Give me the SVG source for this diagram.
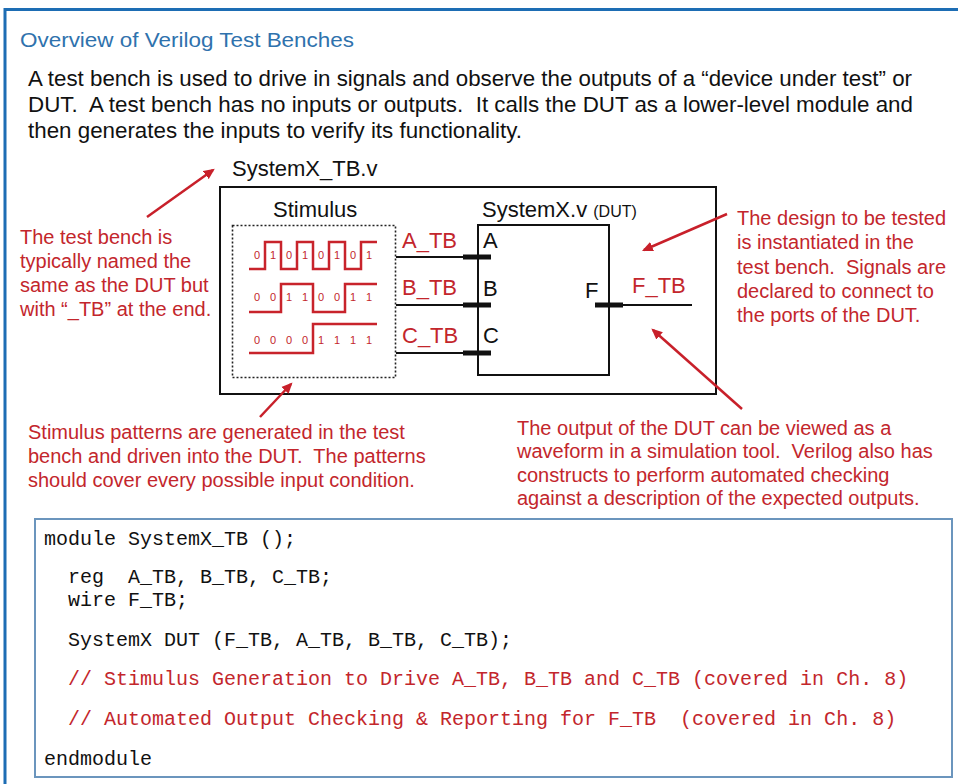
<svg xmlns="http://www.w3.org/2000/svg" width="958" height="784" viewBox="0 0 958 784">
<defs>
<style>
text{font-family:"Liberation Sans",Arial,sans-serif;white-space:pre}
.title{font-size:21px;fill:#2f72ad}
.para{font-size:22px;fill:#111}
.lbl{font-size:22px;fill:#111}
.sig{font-size:22px;fill:#c3262c}
.note{font-size:20px;fill:#c3262c}
.bit{font-size:11px;fill:#c3262c;text-anchor:middle}
.code{font-family:"Liberation Mono","Courier New",monospace;font-size:20px;fill:#111}
.cmt{fill:#c3262c}
.wave{fill:none;stroke:#c8232b;stroke-width:2.5}
.wire{stroke:#111;stroke-width:2;fill:none}
.stub{stroke:#111;stroke-width:5;fill:none}
.arrow{stroke:#c8202a;stroke-width:2.5;fill:none;marker-end:url(#ah)}
</style>
<marker id="ah" viewBox="0 0 10 10" refX="8" refY="5" markerWidth="11" markerHeight="11" markerUnits="userSpaceOnUse" orient="auto">
<path d="M0,0.5 L10,5 L0,9.5 z" fill="#c8202a"/>
</marker>
</defs>
<rect width="958" height="784" fill="#fff"/>
<g id="frame">
<line x1="5" y1="9.5" x2="958" y2="9.5" stroke="#1d6db4" stroke-width="3"/>
<line x1="5" y1="8" x2="5" y2="784" stroke="#1d6db4" stroke-width="3"/>
</g>
<g id="heading">
<text class="title" x="20" y="47" textLength="334" lengthAdjust="spacingAndGlyphs">Overview of Verilog Test Benches</text>
<text class="para" x="28" y="86" textLength="884" lengthAdjust="spacingAndGlyphs">A test bench is used to drive in signals and observe the outputs of a “device under test” or</text>
<text class="para" x="28" y="112" textLength="885" lengthAdjust="spacingAndGlyphs">DUT.  A test bench has no inputs or outputs.  It calls the DUT as a lower-level module and</text>
<text class="para" x="28" y="138" textLength="494" lengthAdjust="spacingAndGlyphs">then generates the inputs to verify its functionality.</text>
</g>
<g id="testbench">
<text class="lbl" x="232" y="176">SystemX_TB.v</text>
<rect x="220" y="187" width="496" height="207" fill="none" stroke="#111" stroke-width="2"/>
</g>
<g id="stimulus">
<text class="lbl" x="273" y="217">Stimulus</text>
<rect x="232.5" y="225.5" width="163" height="152" fill="none" stroke="#222" stroke-width="1.6" stroke-dasharray="2,2"/>
<path class="wave" d="M249,269 H265 V242 H281 V269 H297 V242 H313 V269 H329 V242 H345 V269 H361 V242 H377"/>
<path class="wave" d="M249,312 H281 V284 H313 V312 H345 V284 H377"/>
<path class="wave" d="M249,353 H313 V324 H377"/>
<g>
<text class="bit" x="257" y="259">0</text><text class="bit" x="273" y="259">1</text><text class="bit" x="289" y="259">0</text><text class="bit" x="305" y="259">1</text><text class="bit" x="321" y="259">0</text><text class="bit" x="337" y="259">1</text><text class="bit" x="353" y="259">0</text><text class="bit" x="369" y="259">1</text>
<text class="bit" x="257" y="301">0</text><text class="bit" x="273" y="301">0</text><text class="bit" x="289" y="301">1</text><text class="bit" x="305" y="301">1</text><text class="bit" x="321" y="301">0</text><text class="bit" x="337" y="301">0</text><text class="bit" x="353" y="301">1</text><text class="bit" x="369" y="301">1</text>
<text class="bit" x="257" y="344">0</text><text class="bit" x="273" y="344">0</text><text class="bit" x="289" y="344">0</text><text class="bit" x="305" y="344">0</text><text class="bit" x="321" y="344">1</text><text class="bit" x="337" y="344">1</text><text class="bit" x="353" y="344">1</text><text class="bit" x="369" y="344">1</text>
</g>
</g>
<g id="dut">
<text class="lbl" x="482" y="217">SystemX.v <tspan font-size="16">(DUT)</tspan></text>
<rect x="478" y="225" width="131" height="150" fill="none" stroke="#111" stroke-width="2"/>
<text class="lbl" x="483" y="248">A</text>
<text class="lbl" x="483" y="296">B</text>
<text class="lbl" x="483" y="343">C</text>
<text class="lbl" x="585" y="298">F</text>
</g>
<g id="connectors">
<line class="wire" x1="396" y1="257" x2="470" y2="257"/>
<line class="stub" x1="463" y1="257" x2="491" y2="257"/>
<line class="wire" x1="396" y1="305" x2="470" y2="305"/>
<line class="stub" x1="463" y1="305" x2="491" y2="305"/>
<line class="wire" x1="396" y1="353" x2="470" y2="353"/>
<line class="stub" x1="463" y1="353" x2="491" y2="353"/>
<line class="stub" x1="595" y1="305" x2="623" y2="305"/>
<line class="wire" x1="620" y1="305" x2="692" y2="305"/>
<line class="arrow" x1="147" y1="217" x2="213" y2="170"/>
<line class="arrow" x1="260" y1="417" x2="291" y2="384"/>
<line class="arrow" x1="727" y1="214" x2="644" y2="250"/>
<line class="arrow" x1="742" y1="409" x2="653" y2="330"/>
</g>
<g id="signal-labels">
<text class="sig" x="402" y="248">A_TB</text>
<text class="sig" x="402" y="295">B_TB</text>
<text class="sig" x="402" y="343">C_TB</text>
<text class="sig" x="632" y="293">F_TB</text>
</g>
<g id="note-name">
<text class="note" x="20" y="244">The test bench is</text>
<text class="note" x="20" y="268">typically named the</text>
<text class="note" x="20" y="292">same as the DUT but</text>
<text class="note" x="20" y="316">with “_TB” at the end.</text>
</g>
<g id="note-design">
<text class="note" x="737" y="225">The design to be tested</text>
<text class="note" x="737" y="249">is instantiated in the</text>
<text class="note" x="737" y="274">test bench.  Signals are</text>
<text class="note" x="737" y="298">declared to connect to</text>
<text class="note" x="737" y="322">the ports of the DUT.</text>
</g>
<g id="note-stimulus">
<text class="note" x="28" y="439">Stimulus patterns are generated in the test</text>
<text class="note" x="28" y="463">bench and driven into the DUT.  The patterns</text>
<text class="note" x="28" y="487">should cover every possible input condition.</text>
</g>
<g id="note-output">
<text class="note" x="517" y="435">The output of the DUT can be viewed as a</text>
<text class="note" x="517" y="458">waveform in a simulation tool.  Verilog also has</text>
<text class="note" x="517" y="482">constructs to perform automated checking</text>
<text class="note" x="517" y="505">against a description of the expected outputs.</text>
</g>
<g id="code">
<rect x="35" y="519" width="917" height="258" fill="#fff" stroke="#6b95bd" stroke-width="2"/>
<text class="code" x="44" y="545">module SystemX_TB ();</text>
<text class="code" x="68" y="583">reg  A_TB, B_TB, C_TB;</text>
<text class="code" x="68" y="606">wire F_TB;</text>
<text class="code" x="68" y="646">SystemX DUT (F_TB, A_TB, B_TB, C_TB);</text>
<text class="code cmt" x="68" y="685">// Stimulus Generation to Drive A_TB, B_TB and C_TB (covered in Ch. 8)</text>
<text class="code cmt" x="68" y="725">// Automated Output Checking &amp; Reporting for F_TB  (covered in Ch. 8)</text>
<text class="code" x="44" y="765">endmodule</text>
</g>
</svg>
